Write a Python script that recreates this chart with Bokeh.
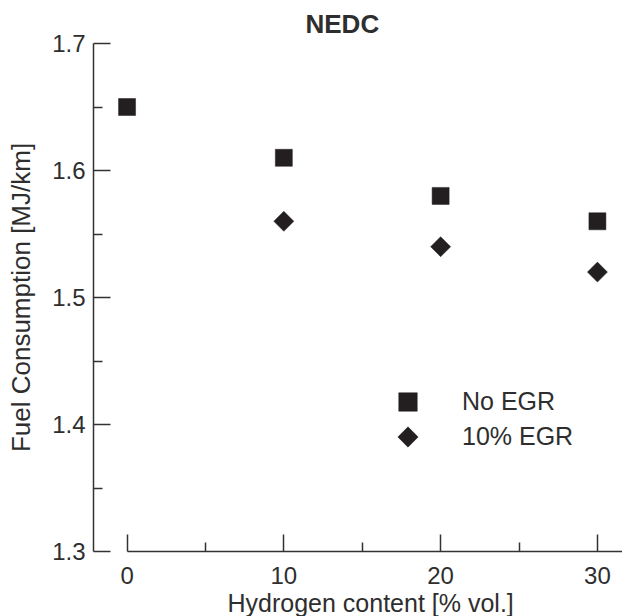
from bokeh.plotting import figure
from bokeh.models import (Range1d, FixedTicker, PrintfTickFormatter, Legend,
                          LegendItem, ColumnDataSource, Title, CustomJS)
from bokeh.embed import file_html
from bokeh.resources import INLINE

# Hydrogen content [% vol.] and fuel consumption [MJ/km] on the NEDC cycle
h2_no_egr = [0, 10, 20, 30]
fc_no_egr = [1.65, 1.61, 1.58, 1.56]
h2_egr10 = [10, 20, 30]
fc_egr10 = [1.56, 1.54, 1.52]

x_ticks = [0, 10, 20, 30]
x_minor = [5, 15, 25]
y_ticks = [1.3, 1.4, 1.5, 1.6, 1.7]
y_minor = [1.35, 1.45, 1.55, 1.65]

INK = "#231f20"
TEXT = "#2e2e2e"
AXIS = "#333333"
FONT = "Liberation Sans"

# marker shapes: a filled square and a 45-degree rotated square (diamond),
# scaled up from r so the legend keys come out as large as the plotted ones
SQ_K = 1.32
DI_K = 1.45
marker_defs = {
    "@box": CustomJS(code=f"""
        export default (args, obj, {{ctx, i, r, visuals}}) => {{
            const h = r*{SQ_K}
            ctx.beginPath()
            ctx.moveTo(-h, -h)
            ctx.lineTo(h, -h)
            ctx.lineTo(h, h)
            ctx.lineTo(-h, h)
            ctx.closePath()
            visuals.fill.apply(ctx, i)
            visuals.line.apply(ctx, i)
        }}
    """),
    "@rhomb": CustomJS(code=f"""
        export default (args, obj, {{ctx, i, r, visuals}}) => {{
            const h = r*{DI_K}
            ctx.beginPath()
            ctx.moveTo(0, -h)
            ctx.lineTo(h, 0)
            ctx.lineTo(0, h)
            ctx.lineTo(-h, 0)
            ctx.closePath()
            visuals.fill.apply(ctx, i)
            visuals.line.apply(ctx, i)
        }}
    """),
}

p = figure(width=622, height=616, output_backend="svg", toolbar_location=None,
           x_range=Range1d(-2.14, 31.6), y_range=Range1d(1.3, 1.7),
           min_border_left=93, min_border_right=0, min_border_top=43,
           min_border_bottom=64)
p.outline_line_color = None
p.grid.visible = False
p.background_fill_color = "white"
p.border_fill_color = "white"

p.title = Title(text="NEDC", align="left", offset=212, text_font=FONT,
                text_font_size="26px", text_font_style="bold",
                text_color=TEXT, standoff=10)

# x axis caption, set slightly right of the frame centre
x_caption = Title(text="Hydrogen content [% vol.]", align="left", offset=134,
                  text_font=FONT, text_font_size="25px",
                  text_font_style="normal", text_color=TEXT, standoff=0)
p.add_layout(x_caption, "below")

# axes: ticks point inward, the x axis line starts at zero
for ax in (p.xaxis[0], p.yaxis[0]):
    ax.axis_line_color = AXIS
    ax.axis_line_width = 1.5
    ax.major_tick_line_color = AXIS
    ax.minor_tick_line_color = AXIS
    ax.major_tick_line_width = 1.5
    ax.minor_tick_line_width = 1.5
    ax.major_tick_in = 17
    ax.major_tick_out = 0
    ax.minor_tick_in = 9
    ax.minor_tick_out = 0
    ax.major_label_text_font = FONT
    ax.major_label_text_font_size = "24px"
    ax.major_label_text_color = TEXT
    ax.axis_label_text_font = FONT
    ax.axis_label_text_font_style = "normal"
    ax.axis_label_text_color = TEXT

p.xaxis[0].ticker = FixedTicker(ticks=x_ticks, minor_ticks=x_minor)
p.xaxis[0].bounds = (0, 31.6)
p.xaxis[0].major_label_standoff = 15

p.yaxis[0].ticker = FixedTicker(ticks=y_ticks, minor_ticks=y_minor)
p.yaxis[0].formatter = PrintfTickFormatter(format="%.1f")
p.yaxis[0].axis_label = "Fuel Consumption [MJ/km]"
p.yaxis[0].axis_label_text_font_size = "26px"
p.yaxis[0].major_label_standoff = 8
p.yaxis[0].axis_label_standoff = 13

src_a = ColumnDataSource(dict(x=h2_no_egr, y=fc_no_egr))
src_b = ColumnDataSource(dict(x=h2_egr10, y=fc_egr10))

r_a = p.scatter("x", "y", source=src_a, marker="@box", defs=marker_defs,
                size=17 / SQ_K, fill_color=INK, line_color=INK, line_width=0.5)
r_b = p.scatter("x", "y", source=src_b, marker="@rhomb", defs=marker_defs,
                size=20 / DI_K, fill_color=INK, line_color=INK, line_width=0.5)

legend = Legend(items=[LegendItem(label="No EGR", renderers=[r_a]),
                       LegendItem(label="10% EGR", renderers=[r_b])],
                location=(297, 97), glyph_width=35, glyph_height=35,
                spacing=0, label_standoff=37, padding=0, margin=0,
                border_line_color=None, background_fill_alpha=0,
                label_text_font=FONT, label_text_font_size="25px",
                label_text_color=TEXT)
p.add_layout(legend)

open("out.html", "w").write(file_html(p, INLINE))
